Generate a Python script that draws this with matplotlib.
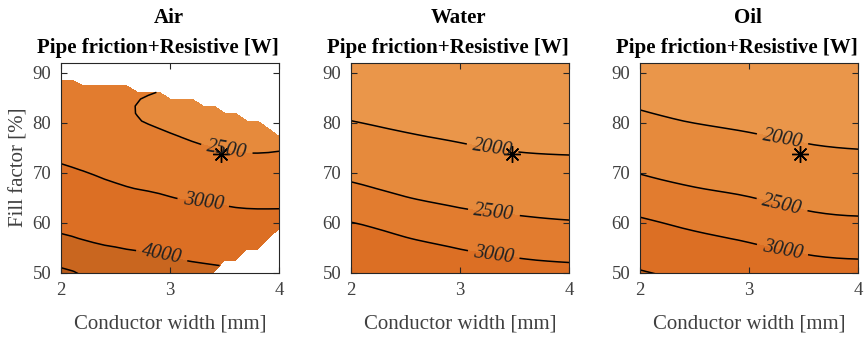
import numpy as np
import matplotlib
matplotlib.use("Agg")
import matplotlib.pyplot as plt
import matplotlib.tri as mtri

plt.rcParams['font.family'] = ['Liberation Serif', 'DejaVu Serif']

# ---------------- data ----------------
coolants = ["Air", "Water", "Oil"]
subtitle = "Pipe friction+Resistive [W]"
xlabel = "Conductor width [mm]"
ylabel = "Fill factor [%]"

x_ticks = [2, 3, 4]
y_ticks = [50, 60, 70, 80, 90]

# coarse sampling of the loss map (conductor width [mm] x fill factor [%])
width_coarse = [2.0, 2.5, 3.0, 3.5, 4.0]
ff_coarse_air = [48, 52, 56, 60, 65, 70, 75, 79, 83, 87, 90, 93]
ff_coarse_liq = [48, 52, 56, 60, 65, 70, 75, 80, 85, 90, 93]

# total loss [W]; rows follow fill factor, columns follow conductor width
loss_air = [
    [5540, 4750, 4716, 4464, 4250],
    [4800, 4420, 4139, 3902, 3900],
    [4215, 3880, 3720, 3542, 3514],
    [3780, 3565, 3375, 3226, 3177],
    [3403, 3167, 3011, 2912, 2886],
    [3070, 2914, 2784, 2681, 2667],
    [2900, 2730, 2590, 2483, 2477],
    [2780, 2615, 2465, 2390, 2400],
    [2740, 2565, 2380, 2370, 2380],
    [2880, 2660, 2505, 2430, 2420],
    [3100, 2800, 2620, 2500, 2470],
    [3350, 2900, 2720, 2560, 2530],
]
loss_water = [
    [4050, 3872, 3602, 3412, 3324],
    [3755, 3436, 3214, 3072, 3000],
    [3335, 3083, 2909, 2804, 2744],
    [3007, 2802, 2659, 2577, 2525],
    [2676, 2510, 2405, 2341, 2302],
    [2409, 2288, 2204, 2143, 2115],
    [2196, 2100, 2031, 1976, 1956],
    [2013, 1943, 1890, 1838, 1822],
    [1866, 1812, 1768, 1718, 1704],
    [1737, 1697, 1661, 1611, 1600],
    [1667, 1634, 1602, 1553, 1544],
]
loss_oil = [
    [4328, 3977, 3694, 3471, 3381],
    [3827, 3529, 3303, 3123, 3051],
    [3422, 3168, 3000, 2852, 2788],
    [3080, 2890, 2762, 2626, 2565],
    [2754, 2605, 2509, 2390, 2340],
    [2486, 2369, 2288, 2195, 2152],
    [2269, 2169, 2100, 2028, 1991],
    [2083, 1997, 1943, 1888, 1857],
    [1927, 1857, 1812, 1766, 1740],
    [1794, 1734, 1697, 1658, 1635],
    [1722, 1667, 1634, 1600, 1579],
]

# evaluation grid of the design sweep
width_fine = [2.0, 2.1, 2.2, 2.3, 2.4, 2.5, 2.6, 2.7, 2.8, 2.9, 3.0,
              3.1, 3.2, 3.3, 3.4, 3.5, 3.6, 3.7, 3.8, 3.9, 4.0]
ff_fine = [48.0, 50.25, 52.5, 54.7, 56.85, 58.95, 61.0, 63.0, 64.95, 66.85,
           68.7, 70.5, 72.25, 73.95, 75.6, 77.2, 78.8, 80.34, 81.88, 83.34,
           84.74, 86.08, 87.4, 88.54, 89.6, 90.6, 91.55, 92.45]

# feasible fill-factor range per conductor width (air cooling)
air_ff_max = [88.54, 88.54, 87.4, 87.4, 87.4, 87.4, 87.4, 86.08, 86.08, 86.08,
              84.74, 84.74, 84.74, 83.34, 83.34, 81.88, 81.88, 80.34, 80.34,
              78.8, 77.2]
air_ff_min = [48.0] * 14 + [50.25, 52.5, 52.5, 54.7, 54.7, 56.85, 58.95]

levels = [1000, 1500, 2000, 2500, 3000, 4000, 5000, 6000]
band_colors = ['#f0a55a', '#ea964a', '#e68a3c', '#e27c2f', '#dc6f24',
               '#c9661f', '#b85a1a']

design_point = (3.47, 73.7)

label_pos_air = [(3.52, 74.8), (3.30, 63.5), (2.91, 52.2)]
label_pos_water = [(3.30, 75.4), (3.31, 62.3), (3.31, 54.2)]
label_pos_oil = [(3.31, 77.3), (3.31, 64.4), (3.31, 55.2)]


def build_field(ff_c, loss, ff_max=None, ff_min=None):
    Xc, Yc = np.meshgrid(width_coarse, ff_c)
    tri = mtri.Triangulation(Xc.ravel(), Yc.ravel())
    interp = mtri.CubicTriInterpolator(tri, np.asarray(loss, float).ravel(),
                                       kind='min_E')
    Xf, Yf = np.meshgrid(width_fine, ff_fine)
    Z = interp(Xf, Yf)
    Z = np.ma.masked_invalid(np.ma.filled(Z, np.nan))
    if ff_max is not None:
        mx = np.asarray(ff_max)[None, :]
        mn = np.asarray(ff_min)[None, :]
        bad = (Yf > mx + 1e-6) | (Yf < mn - 1e-6)
        Z = np.ma.masked_where(bad, Z)
    return Xf, Yf, Z


fields = [
    build_field(ff_coarse_air, loss_air, air_ff_max, air_ff_min),
    build_field(ff_coarse_liq, loss_water),
    build_field(ff_coarse_liq, loss_oil),
]
label_positions = [label_pos_air, label_pos_water, label_pos_oil]

fig = plt.figure(figsize=(8.64, 3.37), dpi=100)
lefts = [0.0706, 0.4063, 0.7407]
axes_w, axes_h, axes_b = 0.2527, 0.623, 0.1908

for i, (name, (Xf, Yf, Z), lpos) in enumerate(zip(coolants, fields, label_positions)):
    ax = fig.add_axes([lefts[i], axes_b, axes_w, axes_h])
    ax.contourf(Xf, Yf, Z, levels=levels, colors=band_colors)
    cs = ax.contour(Xf, Yf, Z, levels=levels, colors='k', linewidths=1.1)
    txts = ax.clabel(cs, manual=lpos, inline=True, fmt='%d', fontsize=14.5,
                     inline_spacing=6)
    for t in txts:
        t.set_fontstyle('italic')
        t.set_color('#222222')
    ax.plot([design_point[0]], [design_point[1]], marker=(8, 2, 0),
            color='k', markersize=12, mew=1.0, linestyle='none')
    ax.set_xlim(2, 4)
    ax.set_ylim(50, 92)
    ax.set_xticks(x_ticks)
    ax.set_yticks(y_ticks)
    ax.tick_params(direction='in', top=True, right=True, length=4, width=0.8,
                   color='#262626', labelcolor='#404040', labelsize=13.5, pad=7)
    for sp in ax.spines.values():
        sp.set_color('#262626')
        sp.set_linewidth(0.8)
    ax.set_xlabel(xlabel, fontsize=15, color='#404040', labelpad=11)
    if i == 0:
        ax.set_ylabel(ylabel, fontsize=15, color='#404040', labelpad=3)
    ax.text(0.493, 1.189, name, transform=ax.transAxes, ha='center',
            va='baseline', fontsize=15, fontweight='bold', color='k')
    ax.text(0.443, 1.046, subtitle, transform=ax.transAxes, ha='center',
            va='baseline', fontsize=15, fontweight='bold', color='k')

fig.savefig("out.png", dpi=100)
